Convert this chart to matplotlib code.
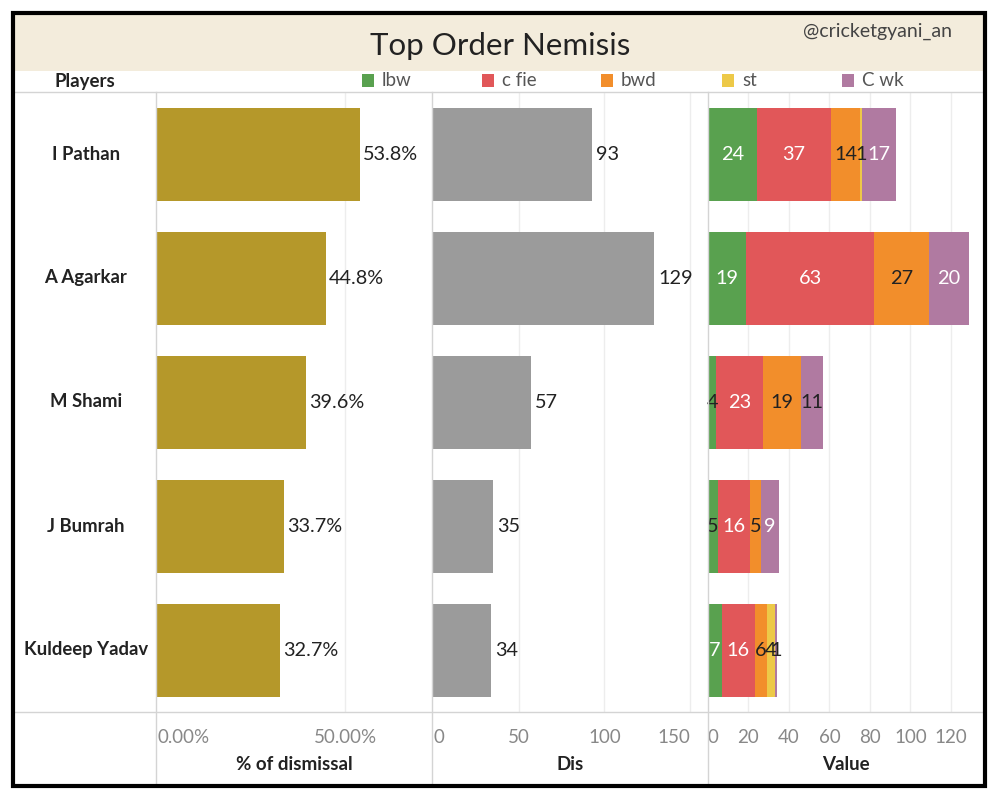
import matplotlib
matplotlib.use("Agg")
import matplotlib.pyplot as plt
from matplotlib.patches import Rectangle
from matplotlib.lines import Line2D
import numpy as np

plt.rcParams['font.family'] = ['Lato', 'DejaVu Sans']

# ---------------- data ----------------
players = ["I Pathan", "A Agarkar", "M Shami", "J Bumrah", "Kuldeep Yadav"]
pct_dismissal = [53.8, 44.8, 39.6, 33.7, 32.7]
dis = [93, 129, 57, 35, 34]
mode_names = ["lbw", "c fie", "bwd", "st", "C wk"]
lbw = [24, 19, 4, 5, 7]
c_fie = [37, 63, 23, 16, 16]
bwd = [14, 27, 19, 5, 6]
st = [1, 0, 0, 0, 4]
c_wk = [17, 20, 11, 9, 1]
pct_ticks = [0, 50]
pct_ticklabels = ["0.00%", "50.00%"]
dis_ticks = [0, 50, 100, 150]
val_ticks = [0, 20, 40, 60, 80, 100, 120]

# ---------------- style ----------------
W, H = 1000, 800
mode_colors = ["#59A14F", "#E15759", "#F28E2B", "#EDC948", "#B07AA1"]
label_colors = [["white", "white", "#222222", "#222222", "white"],
                ["white", "white", "#222222", "#222222", "white"],
                ["#222222", "white", "#222222", "#222222", "#222222"],
                ["#222222", "white", "#222222", "#222222", "white"],
                ["white", "white", "#222222", "#222222", "#222222"]]
gold = "#B5982A"
grey = "#9B9B9B"
line_c = "#D4D4D4"
grid_c = "#EDEDED"
tick_c = "#888888"
txt_c = "#222222"

fig = plt.figure(figsize=(W / 100, H / 100), dpi=100)


def px_axes(x0, y0, x1, y1, **kw):
    return fig.add_axes([x0 / W, 1 - y1 / H, (x1 - x0) / W, (y1 - y0) / H], **kw)


def fx(x):
    return x / W


def fy(y):
    return 1 - y / H


# title band
fig.patches.append(Rectangle((fx(14), fy(71)), fx(970), 57 / H, transform=fig.transFigure,
                             facecolor="#F3ECDC", edgecolor="none", zorder=0))
fig.text(fx(500), fy(46), "Top Order Nemisis", ha="center", va="center",
         fontsize=22.5, color=txt_c)
fig.text(fx(877), fy(31), "@cricketgyani_an", ha="center", va="center",
         fontsize=14, color="#444444")

# header row
fig.text(fx(55), fy(81), "Players", ha="left", va="center", fontsize=13.5,
         fontweight="bold", color=txt_c)
leg_x = [362, 482, 601, 722, 842]
for lx, name, col in zip(leg_x, mode_names, mode_colors):
    fig.patches.append(Rectangle((fx(lx), fy(87)), 12 / W, 13 / H, transform=fig.transFigure,
                                 facecolor=col, edgecolor="none"))
    fig.text(fx(lx + 20), fy(80), name, ha="left", va="center", fontsize=13.5,
             color="#555555")

# separator lines
for y in (92, 712):
    fig.lines.append(Line2D([fx(14), fx(984)], [fy(y), fy(y)], transform=fig.transFigure,
                            color=line_c, lw=1))
for x in (156, 432, 708):
    fig.lines.append(Line2D([fx(x), fx(x)], [fy(92), fy(786)], transform=fig.transFigure,
                            color=line_c, lw=1))

ypos = np.arange(len(players))
bar_h = 0.75

# player names
for i, p in enumerate(players):
    fig.text(fx(86), fy(92 + 124 * i + 62), p, ha="center", va="center", fontsize=13.3,
             fontweight="bold", color=txt_c)


def setup(ax, xmax, ticks, labels, title, xcenter):
    ax.set_xlim(0, xmax)
    ax.set_ylim(len(players) - 0.5, -0.5)
    for s in ax.spines.values():
        s.set_visible(False)
    ax.set_yticks([])
    ax.set_xticks(ticks)
    ax.set_xticklabels(labels, fontsize=13.5, color=tick_c)
    ax.tick_params(axis="x", length=0, pad=12)
    tl = ax.get_xticklabels()
    tl[0].set_ha("left")
    for t in ticks[1:]:
        ax.axvline(t, color=grid_c, lw=1, zorder=0)
    ax.set_facecolor("none")
    fig.text(fx(xcenter), fy(765), title, ha="center", va="center", fontsize=13.5,
             fontweight="bold", color=txt_c)


# % panel
ax1 = px_axes(157, 92, 432, 712)
setup(ax1, 73.0, pct_ticks, pct_ticklabels, "% of dismissal", 294)
ax1.barh(ypos, pct_dismissal, height=bar_h, color=gold, zorder=2)
for i, v in enumerate(pct_dismissal):
    ax1.text(v + 0.8, i, f"{v:.1f}%", va="center", ha="left", fontsize=14.3, color=txt_c)

# Dis panel
ax2 = px_axes(433, 92, 708, 712)
setup(ax2, 160.5, dis_ticks, [str(t) for t in dis_ticks], "Dis", 570)
ax2.get_xticklabels()[-1].set_ha("right")
ax2.get_xticklabels()[-1].set_x(dis_ticks[-1] + 6)
ax2.barh(ypos, dis, height=bar_h, color=grey, zorder=2)
for i, v in enumerate(dis):
    ax2.text(v + 2.3, i, f"{v}", va="center", ha="left", fontsize=14.3, color=txt_c)

# Value panel (stacked)
ax3 = px_axes(708, 92, 984, 712)
setup(ax3, 136.4, val_ticks, [str(t) for t in val_ticks], "Value", 846)
series = [lbw, c_fie, bwd, st, c_wk]
left = np.zeros(len(players))
for k, (vals, col) in enumerate(zip(series, mode_colors)):
    vals = np.array(vals, dtype=float)
    ax3.barh(ypos, vals, left=left, height=bar_h, color=col, zorder=2, lw=0)
    for i, v in enumerate(vals):
        if v > 0:
            ax3.text(left[i] + v / 2, i, f"{int(v)}", ha="center", va="center",
                     fontsize=14.3, color=label_colors[i][k], zorder=3)
    left += vals

# outer border
fig.patches.append(Rectangle((fx(13), fy(786)), fx(972), 773 / H, transform=fig.transFigure,
                             facecolor="none", edgecolor="black", lw=3, zorder=10))

fig.savefig("out.png", dpi=100, facecolor="white")
